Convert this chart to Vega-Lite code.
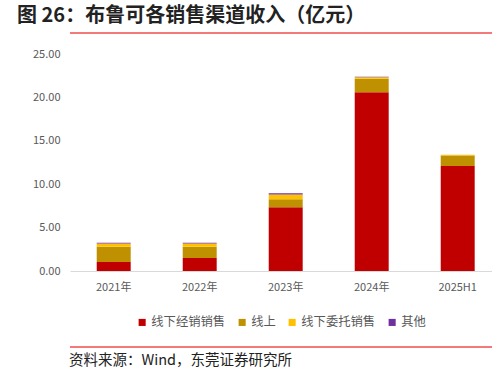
{
  "$schema": "https://vega.github.io/schema/vega-lite/v6.json",
  "background": "white",
  "padding": {"left": 17, "top": 6, "right": 0, "bottom": 0},
  "title": {"text": "图 26：布鲁可各销售渠道收入（亿元）", "anchor": "start", "font": "Noto Sans CJK SC", "fontSize": 20, "fontWeight": "bold", "color": "#222222", "offset": 6},
  "config": {"view": {"stroke": null}, "font": "Noto Sans CJK SC", "legend": {"layout": {"bottom": {"anchor": "middle"}}}},
  "resolve": {"legend": {"color": "independent"}},
  "datasets": {
    "rev": [
      {"period": "2021年", "channel": "线下经销销售", "ord": 1, "value": 1.04},
      {"period": "2021年", "channel": "线上", "ord": 2, "value": 1.76},
      {"period": "2021年", "channel": "线下委托销售", "ord": 3, "value": 0.36},
      {"period": "2021年", "channel": "其他", "ord": 4, "value": 0.10},
      {"period": "2022年", "channel": "线下经销销售", "ord": 1, "value": 1.50},
      {"period": "2022年", "channel": "线上", "ord": 2, "value": 1.30},
      {"period": "2022年", "channel": "线下委托销售", "ord": 3, "value": 0.36},
      {"period": "2022年", "channel": "其他", "ord": 4, "value": 0.10},
      {"period": "2023年", "channel": "线下经销销售", "ord": 1, "value": 7.34},
      {"period": "2023年", "channel": "线上", "ord": 2, "value": 0.92},
      {"period": "2023年", "channel": "线下委托销售", "ord": 3, "value": 0.54},
      {"period": "2023年", "channel": "其他", "ord": 4, "value": 0.15},
      {"period": "2024年", "channel": "线下经销销售", "ord": 1, "value": 20.60},
      {"period": "2024年", "channel": "线上", "ord": 2, "value": 1.55},
      {"period": "2024年", "channel": "线下委托销售", "ord": 3, "value": 0.18},
      {"period": "2024年", "channel": "其他", "ord": 4, "value": 0.05},
      {"period": "2025H1", "channel": "线下经销销售", "ord": 1, "value": 12.10},
      {"period": "2025H1", "channel": "线上", "ord": 2, "value": 1.20},
      {"period": "2025H1", "channel": "线下委托销售", "ord": 3, "value": 0.08},
      {"period": "2025H1", "channel": "其他", "ord": 4, "value": 0.02}
    ],
    "line": [{"v": 0}]
  },
  "spacing": 14,
  "vconcat": [
    {
      "width": 475,
      "height": 1,
      "data": {"name": "line"},
      "mark": {"type": "rule", "color": "#F47A7A", "strokeWidth": 2},
      "encoding": {"y": {"field": "v", "type": "quantitative", "scale": {"domain": [0, 1]}, "axis": null}}
    },
    {
      "width": 422,
      "height": 217,
      "data": {"name": "rev"},
      "mark": {"type": "bar"},
      "encoding": {
        "x": {
          "field": "period", "type": "nominal",
          "sort": ["2021年", "2022年", "2023年", "2024年", "2025H1"],
          "scale": {"paddingInner": 0.605, "paddingOuter": 0.256, "align": 0.607},
          "axis": {"title": null, "labelAngle": 0, "ticks": false, "domainColor": "#D9D9D9", "labelColor": "#595959", "labelFontSize": 11, "labelPadding": 10}
        },
        "y": {
          "field": "value", "type": "quantitative", "stack": "zero",
          "scale": {"domain": [0, 25]},
          "axis": {"title": null, "values": [0, 5, 10, 15, 20, 25], "format": ".2f", "grid": false, "domain": false, "ticks": false, "labelPadding": 10, "minExtent": 53, "labelColor": "#595959", "labelFontSize": 11}
        },
        "color": {
          "field": "channel", "type": "nominal",
          "scale": {"domain": ["线下经销销售", "线上", "线下委托销售", "其他"], "range": ["#C00000", "#BF9000", "#FFC000", "#7030A0"]},
          "legend": {"orient": "bottom", "direction": "horizontal", "title": null, "symbolType": "square", "symbolSize": 50, "symbolStrokeWidth": 0, "labelFontSize": 12.3, "labelColor": "#595959", "columnPadding": 10, "labelOffset": 3, "offset": 24}
        },
        "order": {"field": "ord", "type": "quantitative"}
      }
    },
    {
      "width": 475,
      "height": 4,
      "data": {"name": "line"},
      "mark": {"type": "rule", "color": "#F47A7A", "strokeWidth": 2},
      "encoding": {"y": {"field": "v", "type": "quantitative", "scale": {"domain": [0, 1]}, "axis": null}},
      "title": {"text": "资料来源：Wind，东莞证券研究所", "orient": "bottom", "anchor": "start", "fontSize": 14.5, "fontWeight": "normal", "color": "#222222", "offset": 6}
    }
  ]
}
